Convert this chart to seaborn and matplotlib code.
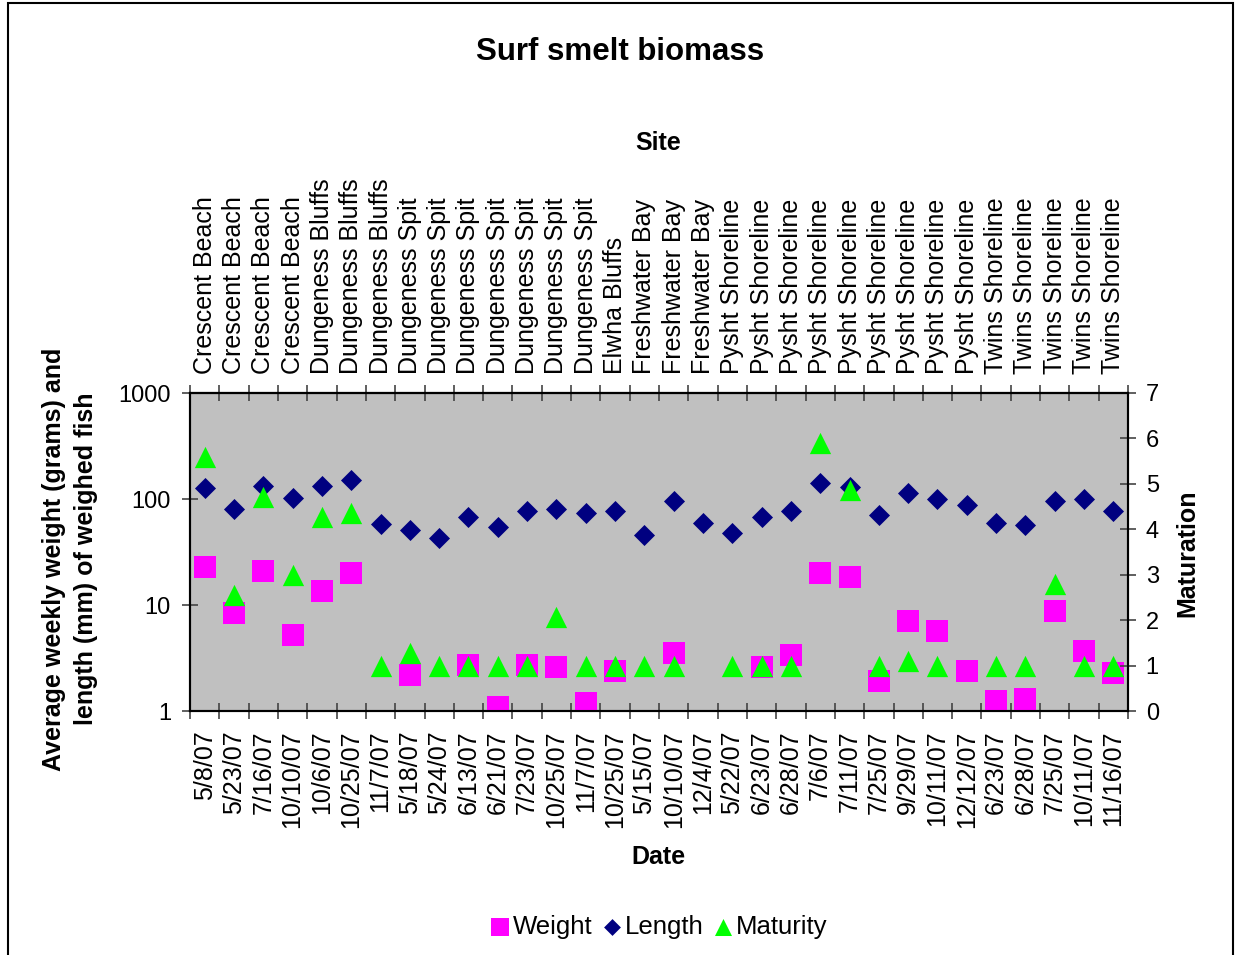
import numpy as np
import pandas as pd
import matplotlib.pyplot as plt
import matplotlib.ticker as mticker
from matplotlib.patches import Rectangle
import seaborn as sns

sns.set_style("ticks")
plt.rcParams['font.family'] = ['Liberation Sans', 'DejaVu Sans']
plt.rcParams['text.color'] = 'black'
plt.rcParams['axes.labelcolor'] = 'black'
plt.rcParams['xtick.color'] = 'black'
plt.rcParams['ytick.color'] = 'black'

sites = ['Crescent Beach'] * 4 + ['Dungeness Bluffs'] * 3 + ['Dungeness Spit'] * 7 + \
        ['Elwha Bluffs'] + ['Freshwater Bay'] * 3 + ['Pysht Shoreline'] * 9 + ['Twins Shoreline'] * 5
dates = ['5/8/07', '5/23/07', '7/16/07', '10/10/07', '10/6/07', '10/25/07', '11/7/07',
         '5/18/07', '5/24/07', '6/13/07', '6/21/07', '7/23/07', '10/25/07', '11/7/07',
         '10/25/07', '5/15/07', '10/10/07', '12/4/07', '5/22/07', '6/23/07', '6/28/07',
         '7/6/07', '7/11/07', '7/25/07', '9/29/07', '10/11/07', '12/12/07', '6/23/07',
         '6/28/07', '7/25/07', '10/11/07', '11/16/07']
nan = np.nan
weight = [22.8, 8.4, 20.9, 5.2, 13.6, 20.0, nan, 2.2, nan, 2.7, 1.1, 2.7, 2.6, 1.2, 2.4, nan,
          3.5, nan, nan, 2.6, 3.4, 20.0, 18.4, 1.9, 7.1, 5.7, 2.4, 1.24, 1.3, 8.8, 3.7, 2.3]
length = [128, 80, 133, 103, 133, 152, 58, 51, 43, 67, 54, 77, 80, 74, 77, 46,
          96, 59, 48, 68, 77, 142, 130, 71, 114, 100, 88, 59, 57, 96, 100, 77]
maturity = [5.6, 2.55, 4.7, 3.0, 4.27, 4.35, 1, 1.27, 1, 1, 1, 1, 2.06, 1, 1, 1,
            1, nan, 1, 1, 1, 5.9, 4.87, 1, 1.1, 1, nan, 1, 1, 2.8, 1, 1]

df = pd.DataFrame({'pos': np.arange(len(dates)), 'Weight': weight,
                   'Length': length, 'Maturity': maturity})

W, H = 1235, 955
fig = plt.figure(figsize=(W / 100, H / 100), dpi=100)
fig.patches.append(Rectangle((8 / W, -0.01), 1225 / W, 1.01 - 3 / H, transform=fig.transFigure,
                             fill=False, edgecolor='black', linewidth=1.5))

ax = fig.add_axes([190 / W, 1 - 711 / H, 938 / W, 318 / H])
ax.set_facecolor('#C0C0C0')
ax2 = ax.twinx()

sns.scatterplot(data=df, x='pos', y='Weight', marker='s', s=235, color='#FF00FF',
                linewidth=0, ax=ax, label='Weight', legend=False, zorder=3)
sns.scatterplot(data=df, x='pos', y='Length', marker='D', s=115, color='#000080',
                linewidth=0, ax=ax, label='Length', legend=False, zorder=3)
sns.scatterplot(data=df, x='pos', y='Maturity', marker='^', s=235, color='#00FF00',
                linewidth=0, ax=ax2, label='Maturity', legend=False, zorder=3)

tick_kw = dict(direction='inout', length=11.5, width=1.2, color='#444444')

# left log axis
ax.set_yscale('log')
ax.set_ylim(1, 1000)
ax.set_yticks([1, 10, 100, 1000])
ax.yaxis.set_major_formatter(mticker.FuncFormatter(lambda v, _: f'{v:g}'))
ax.yaxis.set_minor_locator(mticker.NullLocator())
ax.tick_params(axis='y', labelsize=17, pad=8, labelcolor='black', **tick_kw)
ax.set_ylabel('')

# bottom category axis
ax.set_xlim(-0.5, len(dates) - 0.5)
ax.set_xticks(np.arange(len(dates)))
ax.set_xticklabels(dates, rotation=90)
ax.set_xticks(np.arange(-0.5, len(dates), 1), minor=True)
ax.tick_params(axis='x', which='major', length=0, labelsize=18, pad=14, labelcolor='black')
ax.tick_params(axis='x', which='minor', **tick_kw)
ax.set_xlabel('')

# top site labels
top = ax.secondary_xaxis('top')
top.set_xticks(np.arange(len(sites)))
top.set_xticklabels(sites, rotation=90)
top.xaxis.set_minor_locator(mticker.FixedLocator(np.arange(-0.5, len(sites), 1)))
top.tick_params(axis='x', which='major', length=0, labelsize=18, pad=14, labelcolor='black')
top.tick_params(axis='x', which='minor', **tick_kw)
top.spines['top'].set_linewidth(1.5)
top.spines['top'].set_color('black')

# right maturity axis
ax2.set_ylim(0, 7)
ax2.set_yticks(range(8))
ax2.tick_params(axis='y', labelsize=17, pad=7, labelcolor='black', **tick_kw)
ax2.set_ylabel('')

for a in (ax, ax2):
    for sp in a.spines.values():
        sp.set_visible(True)
        sp.set_color('black')
        sp.set_linewidth(1.5)

fig.text(620 / W, 1 - 52 / H, 'Surf smelt biomass', ha='center', va='center',
         fontsize=22.5, fontweight='bold')
fig.text(658 / W, 1 - 143 / H, 'Site', ha='center', va='center', fontsize=18, fontweight='bold')
fig.text(658 / W, 1 - 857 / H, 'Date', ha='center', va='center', fontsize=18, fontweight='bold')
fig.text(70 / W, 1 - 559 / H, 'Average weekly weight (grams) and\nlength (mm) of weighed fish',
         rotation=90, ha='center', va='center', multialignment='center', linespacing=1.4,
         fontsize=18, fontweight='bold')
fig.text(1187 / W, 1 - 553 / H, 'Maturation', rotation=90, ha='center', va='center',
         fontsize=18, fontweight='bold')

h1, l1 = ax.get_legend_handles_labels()
h2, l2 = ax2.get_legend_handles_labels()
fig.legend(h1 + h2, l1 + l2, loc='center', bbox_to_anchor=(658 / W, 1 - 927 / H), ncol=3,
           frameon=False, fontsize=18.5, handletextpad=0.05, columnspacing=0.3,
           markerscale=0.8, handlelength=0.9)

fig.savefig('out.png', dpi=100)
